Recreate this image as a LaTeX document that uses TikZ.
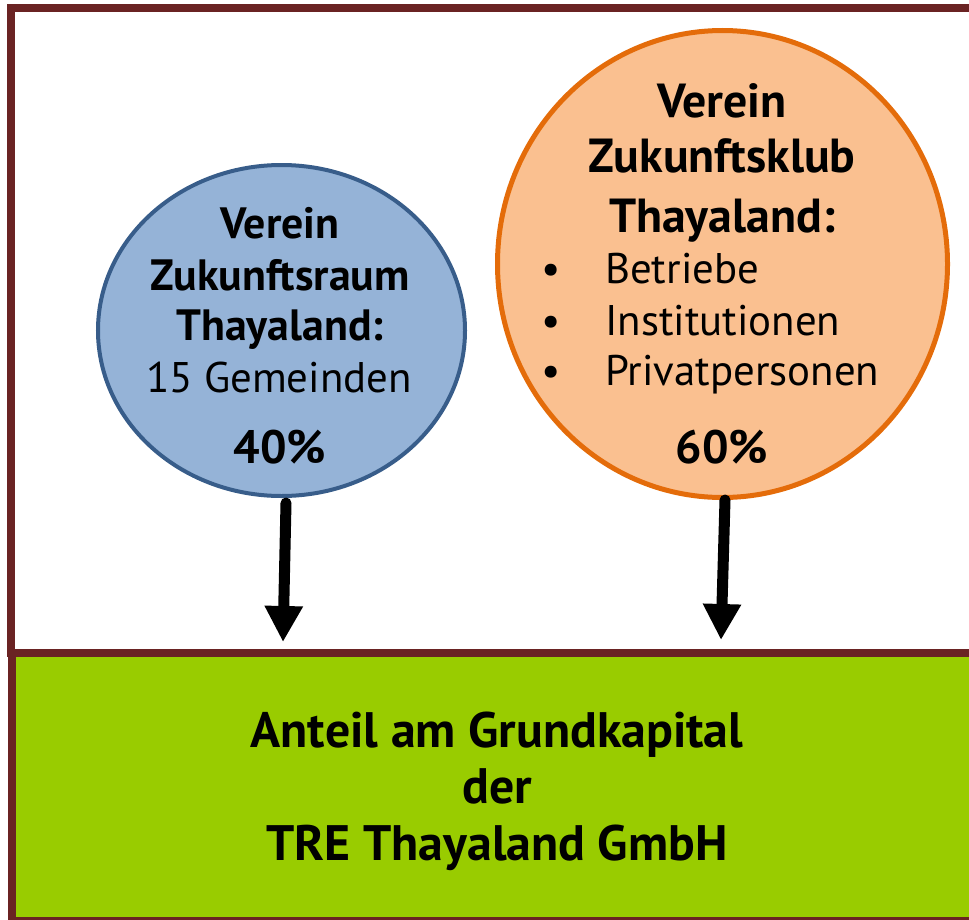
\documentclass[tikz,border=0pt]{standalone}
\usepackage{fontspec}
\setmainfont{PT Sans}
\usetikzlibrary{shapes.geometric,arrows.meta}
\definecolor{framebrown}{RGB}{106,35,35}
\definecolor{bluefill}{RGB}{149,179,215}
\definecolor{blueline}{RGB}{56,93,138}
\definecolor{orangefill}{RGB}{250,192,144}
\definecolor{orangeline}{RGB}{228,108,10}
\definecolor{greenfill}{RGB}{153,204,0}
\tikzset{
  headblue/.style={font=\fontsize{44}{48}\selectfont\bfseries, anchor=base, inner sep=0},
  headorange/.style={font=\fontsize{48}{52}\selectfont\bfseries, anchor=base, inner sep=0},
  percent/.style={font=\fontsize{47}{51}\selectfont\bfseries, anchor=base, inner sep=0},
  plain/.style={font=\fontsize{43}{47}\selectfont, anchor=base, inner sep=0},
  bulletitem/.style={font=\fontsize{43}{47}\selectfont, anchor=base west, inner sep=0},
  bulletdot/.style={font=\fontsize{43}{47}\selectfont, anchor=base, inner sep=0},
  bigtext/.style={font=\fontsize{50}{54}\selectfont\bfseries, anchor=base, inner sep=0},
  owner/.style={ellipse, draw, inner sep=0, outer sep=0},
  share/.style={line width=11bp, line cap=round, -{Triangle[width=36bp,length=36bp]}},
}
\begin{document}
\begin{tikzpicture}[x=1bp,y=-1bp]
\useasboundingbox (0,0) rectangle (969,920);
% frames
\draw[framebrown, line width=8bp] (11,8) rectangle (980,653);
\draw[framebrown, line width=8bp, fill=greenfill] (12,653) rectangle (980,921);
% ellipses
\node[owner, draw=blueline, fill=bluefill, line width=4bp,
      minimum width=367bp, minimum height=331bp] (blue) at (281.5,330.5) {};
\node[owner, draw=orangeline, fill=orangefill, line width=5bp,
      minimum width=450bp, minimum height=467bp] (orange) at (722.5,264) {};
% blue text
\node[headblue] (b1) at (280,238) {Verein};
\node[headblue] (b2) at (280,290) {Zukunftsraum};
\node[headblue] (b3) at (280,340) {Thayaland:};
\node[plain] (b4) at (279,392) {15 Gemeinden};
\node[percent] (b5) at (280,463) {40\%};
% orange text
\node[headorange] (o1) at (722,117) {Verein};
\node[headorange] (o2) at (722,172) {Zukunftsklub};
\node[headorange] (o3) at (722,232) {Thayaland:};
\node[bulletdot] (d1) at (551,283) {•};
\node[bulletdot] (d2) at (551,335) {•};
\node[bulletdot] (d3) at (551,385) {•};
\node[bulletitem] (o4) at (605,283) {Betriebe};
\node[bulletitem] (o5) at (605,335) {Institutionen};
\node[bulletitem] (o6) at (605,385) {Privatpersonen};
\node[percent] (o7) at (722,463) {60\%};
% green text
\node[bigtext] (g1) at (497,747) {Anteil am Grundkapital};
\node[bigtext] (g2) at (497,803) {der};
\node[bigtext] (g3) at (497,860) {TRE Thayaland GmbH};
% arrows
\coordinate (bstart) at (286,503);
\coordinate (bend) at (283,642);
\coordinate (ostart) at (725,500);
\coordinate (oend) at (721,640);
\draw[share] (bstart) -- (bend);
\draw[share] (ostart) -- (oend);
\end{tikzpicture}
\end{document}
